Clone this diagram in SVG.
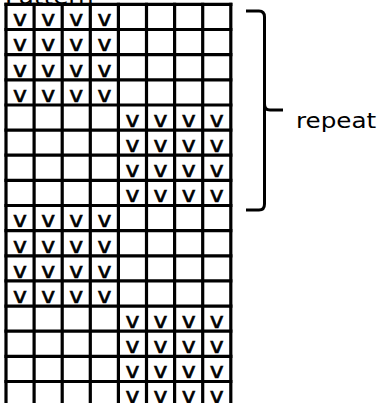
<svg xmlns="http://www.w3.org/2000/svg" width="383" height="403" viewBox="0 0 383 403">
<style>
.bg{fill:#fff}
.grid line{stroke:#000;stroke-width:3.2;stroke-linecap:square}
.v{font-family:"DejaVu Sans",sans-serif;font-size:21px;text-anchor:middle;fill:#000;stroke:#000;stroke-width:0.6}
.lbl{font-family:"DejaVu Sans",sans-serif;font-size:22px;fill:#000}
.brace{fill:none;stroke:#000;stroke-width:3;stroke-linejoin:round}
</style>
<rect class="bg" x="0" y="0" width="383" height="403"/>
<g id="title" transform="scale(1.12 1)"><text class="lbl" x="4.5" y="4">Pattern</text></g>
<g id="grid" class="grid">
<line x1="6" y1="4.4" x2="6" y2="410"/>
<line x1="34.1" y1="4.4" x2="34.1" y2="410"/>
<line x1="62.2" y1="4.4" x2="62.2" y2="410"/>
<line x1="90.3" y1="4.4" x2="90.3" y2="410"/>
<line x1="118.4" y1="4.4" x2="118.4" y2="410"/>
<line x1="146.5" y1="4.4" x2="146.5" y2="410"/>
<line x1="174.6" y1="4.4" x2="174.6" y2="410"/>
<line x1="202.7" y1="4.4" x2="202.7" y2="410"/>
<line x1="230.8" y1="4.4" x2="230.8" y2="410"/>
<line x1="6" y1="4.4" x2="230.8" y2="4.4"/>
<line x1="6" y1="29.5" x2="230.8" y2="29.5"/>
<line x1="6" y1="54.7" x2="230.8" y2="54.7"/>
<line x1="6" y1="79.8" x2="230.8" y2="79.8"/>
<line x1="6" y1="105" x2="230.8" y2="105"/>
<line x1="6" y1="130.1" x2="230.8" y2="130.1"/>
<line x1="6" y1="155.2" x2="230.8" y2="155.2"/>
<line x1="6" y1="180.4" x2="230.8" y2="180.4"/>
<line x1="6" y1="205.5" x2="230.8" y2="205.5"/>
<line x1="6" y1="230.7" x2="230.8" y2="230.7"/>
<line x1="6" y1="255.8" x2="230.8" y2="255.8"/>
<line x1="6" y1="280.9" x2="230.8" y2="280.9"/>
<line x1="6" y1="306.1" x2="230.8" y2="306.1"/>
<line x1="6" y1="331.2" x2="230.8" y2="331.2"/>
<line x1="6" y1="356.4" x2="230.8" y2="356.4"/>
<line x1="6" y1="381.5" x2="230.8" y2="381.5"/>
</g>
<g id="marks" transform="scale(1.12 1)">
<g id="block1">
<text class="v" x="17.9" y="26.4">v</text><text class="v" x="42.99" y="26.4">v</text><text class="v" x="68.08" y="26.4">v</text><text class="v" x="93.17" y="26.4">v</text>
<text class="v" x="17.9" y="51.5">v</text><text class="v" x="42.99" y="51.5">v</text><text class="v" x="68.08" y="51.5">v</text><text class="v" x="93.17" y="51.5">v</text>
<text class="v" x="17.9" y="76.7">v</text><text class="v" x="42.99" y="76.7">v</text><text class="v" x="68.08" y="76.7">v</text><text class="v" x="93.17" y="76.7">v</text>
<text class="v" x="17.9" y="101.8">v</text><text class="v" x="42.99" y="101.8">v</text><text class="v" x="68.08" y="101.8">v</text><text class="v" x="93.17" y="101.8">v</text>
</g>
<g id="block2">
<text class="v" x="118.26" y="127">v</text><text class="v" x="143.35" y="127">v</text><text class="v" x="168.44" y="127">v</text><text class="v" x="193.53" y="127">v</text>
<text class="v" x="118.26" y="152.1">v</text><text class="v" x="143.35" y="152.1">v</text><text class="v" x="168.44" y="152.1">v</text><text class="v" x="193.53" y="152.1">v</text>
<text class="v" x="118.26" y="177.2">v</text><text class="v" x="143.35" y="177.2">v</text><text class="v" x="168.44" y="177.2">v</text><text class="v" x="193.53" y="177.2">v</text>
<text class="v" x="118.26" y="202.4">v</text><text class="v" x="143.35" y="202.4">v</text><text class="v" x="168.44" y="202.4">v</text><text class="v" x="193.53" y="202.4">v</text>
</g>
<g id="block3">
<text class="v" x="17.9" y="227.5">v</text><text class="v" x="42.99" y="227.5">v</text><text class="v" x="68.08" y="227.5">v</text><text class="v" x="93.17" y="227.5">v</text>
<text class="v" x="17.9" y="252.7">v</text><text class="v" x="42.99" y="252.7">v</text><text class="v" x="68.08" y="252.7">v</text><text class="v" x="93.17" y="252.7">v</text>
<text class="v" x="17.9" y="277.8">v</text><text class="v" x="42.99" y="277.8">v</text><text class="v" x="68.08" y="277.8">v</text><text class="v" x="93.17" y="277.8">v</text>
<text class="v" x="17.9" y="302.9">v</text><text class="v" x="42.99" y="302.9">v</text><text class="v" x="68.08" y="302.9">v</text><text class="v" x="93.17" y="302.9">v</text>
</g>
<g id="block4">
<text class="v" x="118.26" y="328.1">v</text><text class="v" x="143.35" y="328.1">v</text><text class="v" x="168.44" y="328.1">v</text><text class="v" x="193.53" y="328.1">v</text>
<text class="v" x="118.26" y="353.2">v</text><text class="v" x="143.35" y="353.2">v</text><text class="v" x="168.44" y="353.2">v</text><text class="v" x="193.53" y="353.2">v</text>
<text class="v" x="118.26" y="378.4">v</text><text class="v" x="143.35" y="378.4">v</text><text class="v" x="168.44" y="378.4">v</text><text class="v" x="193.53" y="378.4">v</text>
<text class="v" x="118.26" y="403.5">v</text><text class="v" x="143.35" y="403.5">v</text><text class="v" x="168.44" y="403.5">v</text><text class="v" x="193.53" y="403.5">v</text>
</g>
</g>
<g id="brace">
<path class="brace" d="M246,11 H259 Q264.5,11 264.5,17 V104 Q264.5,110 270,110 H283 M264.5,104 Q264.5,110 264.5,116 V204 Q264.5,210 259,210 H246"/>
</g>
<g id="repeat-label" transform="scale(1.12 1)"><text class="lbl" x="264.3" y="128">repeat</text></g>
</svg>
